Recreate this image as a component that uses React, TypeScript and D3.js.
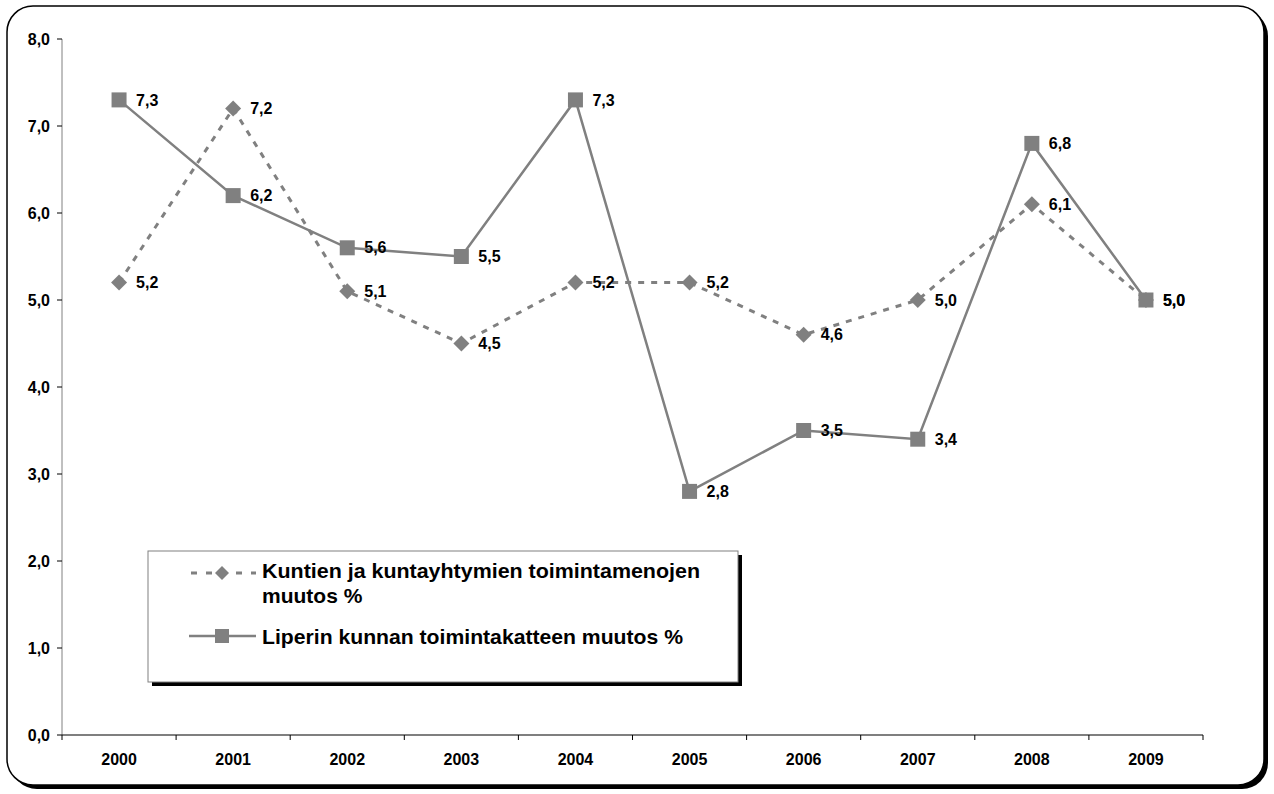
import React from "react";
import * as d3 from "d3";

const years = ["2000","2001","2002","2003","2004","2005","2006","2007","2008","2009"];
const kuntienValues = [5.2, 7.2, 5.1, 4.5, 5.2, 5.2, 4.6, 5.0, 6.1, 5.0];
const liperinValues = [7.3, 6.2, 5.6, 5.5, 7.3, 2.8, 3.5, 3.4, 6.8, 5.0];
const yTicks = [0, 1, 2, 3, 4, 5, 6, 7, 8];
const legendKuntien = ["Kuntien ja kuntayhtymien toimintamenojen", "muutos %"];
const legendLiperin = "Liperin kunnan toimintakatteen muutos %";

const W = 1274, H = 794;
const left = 62, right = 1203, top = 39, bottom = 735;
const font = "Liberation Sans, Arial, sans-serif";
const gray = "#808080";

export default function App() {
  const x = d3.scaleBand<string>().domain(years).range([left, right]);
  const y = d3.scaleLinear().domain([0, 8]).range([bottom, top]);
  const cx = (i: number) => (x(years[i]) as number) + x.bandwidth() / 2;
  const line = d3.line<number>().x((_, i) => cx(i)).y((d) => y(d));
  const fmt = (v: number) => v.toFixed(1).replace(".", ",");
  const diamond = (px: number, py: number, r: number) =>
    `M${px},${py - r}L${px + r},${py}L${px},${py + r}L${px - r},${py}Z`;

  const lx = 148, ly = 551, lw = 590, lh = 131;
  const fs = 16;
  return (
    <svg width={W} height={H} style={{ position: "absolute", left: 0, top: 0, background: "#fff" }} fontFamily={font}>
      {/* frame shadow */}
      <rect x={11} y={10} width={1257} height={779} rx={26} fill="#000" />
      <rect x={7} y={6} width={1257} height={779} rx={26} fill="#fff" stroke="#000" strokeWidth={1.5} />

      {/* y axis */}
      <line x1={left} x2={left} y1={top} y2={bottom} stroke={gray} strokeWidth={1} />
      {yTicks.map((t) => (
        <g key={t}>
          <line x1={left - 5} x2={left} y1={y(t)} y2={y(t)} stroke="#000" />
          <text x={left - 12} y={y(t)} dy="0.35em" textAnchor="end" fontSize={fs} fontWeight="bold">{fmt(t)}</text>
        </g>
      ))}
      {/* x axis */}
      <line x1={left} x2={right} y1={bottom} y2={bottom} stroke="#000" strokeWidth={1.2} />
      {years.map((yr, i) => (
        <g key={yr}>
          <line x1={(x(yr) as number) + x.bandwidth()} x2={(x(yr) as number) + x.bandwidth()} y1={bottom} y2={bottom + 5} stroke="#000" />
          <text x={cx(i)} y={759} dy="0.35em" textAnchor="middle" fontSize={fs} fontWeight="bold">{yr}</text>
        </g>
      ))}
      <line x1={left} x2={left} y1={bottom} y2={bottom + 5} stroke="#000" />

      {/* series lines */}
      <path d={line(kuntienValues) || ""} fill="none" stroke={gray} strokeWidth={3} strokeDasharray="6,7" />
      <path d={line(liperinValues) || ""} fill="none" stroke={gray} strokeWidth={2.5} />

      {kuntienValues.map((v, i) => (
        <path key={"d" + i} d={diamond(cx(i), y(v), 8)} fill={gray} />
      ))}
      {liperinValues.map((v, i) => (
        <rect key={"s" + i} x={cx(i) - 7.5} y={y(v) - 7.5} width={15} height={15} fill={gray} />
      ))}

      {kuntienValues.map((v, i) => (
        <text key={"lk" + i} x={cx(i) + 17} y={y(v)} dy="0.35em" fontSize={fs} fontWeight="bold">{fmt(v)}</text>
      ))}
      {liperinValues.map((v, i) => (
        <text key={"ll" + i} x={cx(i) + 17} y={y(v)} dy="0.35em" fontSize={fs} fontWeight="bold">{fmt(v)}</text>
      ))}

      {/* legend */}
      <rect x={lx + 4} y={ly + 4} width={lw} height={lh} fill="#000" />
      <rect x={lx} y={ly} width={lw} height={lh} fill="#fff" stroke="#808080" strokeWidth={1} />
      <line x1={189} x2={256} y1={573} y2={573} stroke={gray} strokeWidth={3} strokeDasharray="6,9" strokeDashoffset={-2} />
      <path d={diamond(222, 573, 7)} fill={gray} />
      <text x={262} y={571} dy="0.35em" fontSize={21} fontWeight="bold" textLength={438} lengthAdjust="spacingAndGlyphs">{legendKuntien[0]}</text>
      <text x={262} y={596} dy="0.35em" fontSize={21} fontWeight="bold">{legendKuntien[1]}</text>
      <line x1={189} x2={256} y1={636} y2={636} stroke={gray} strokeWidth={2.5} />
      <rect x={215} y={629} width={14} height={14} fill={gray} />
      <text x={262} y={637} dy="0.35em" fontSize={21} fontWeight="bold" textLength={421} lengthAdjust="spacingAndGlyphs">{legendLiperin}</text>
    </svg>
  );
}
